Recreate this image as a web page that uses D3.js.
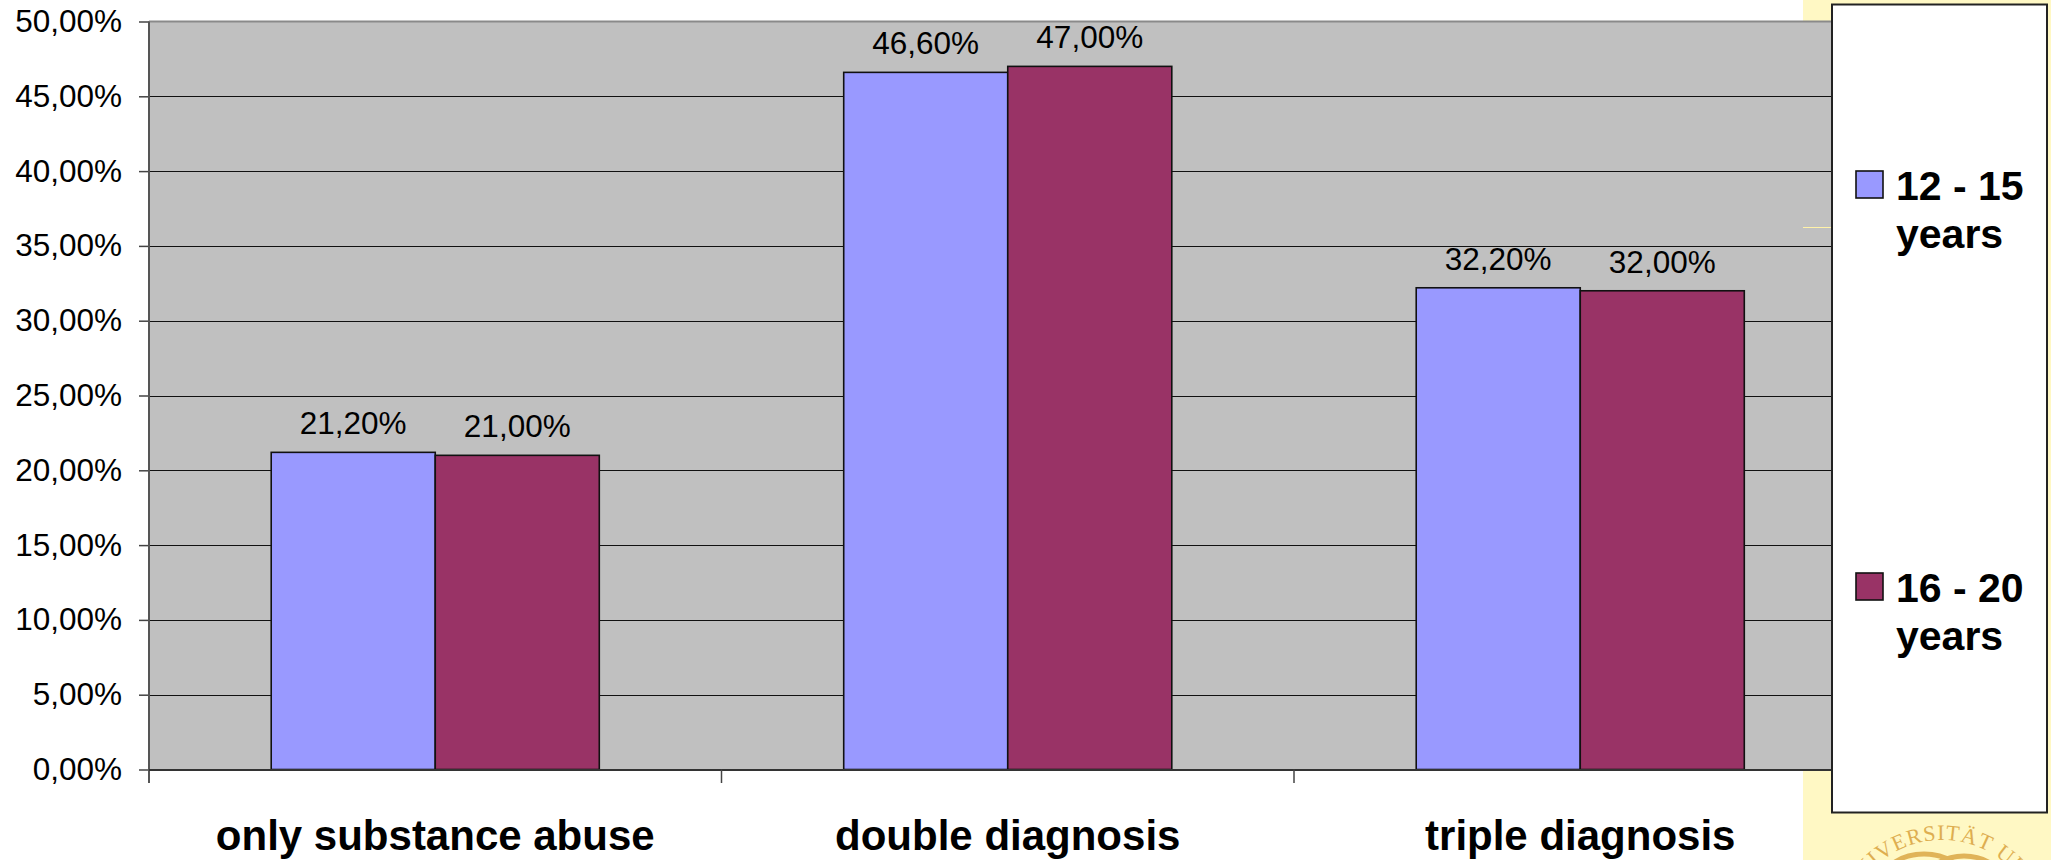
<!DOCTYPE html>
<html>
<head>
<meta charset="utf-8">
<script src="https://cdn.jsdelivr.net/npm/d3@7"></script>
<style>
  body { margin: 0; background: #fff; }
  svg { display: block; font-family: "Liberation Sans", Arial, sans-serif; }
</style>
</head>
<body>
<svg id="chart" width="2051" height="860"></svg>
<script>
// Share of patients per diagnosis group, by age band (percent)
const categories = ["only substance abuse", "double diagnosis", "triple diagnosis"];
const seriesKeys = ["12 - 15 years", "16 - 20 years"];
const legendLines = [["12 - 15", "years"], ["16 - 20", "years"]];
const ages12to15 = [21.2, 46.6, 32.2];
const ages16to20 = [21.0, 47.0, 32.0];
const yTicks = [0, 5, 10, 15, 20, 25, 30, 35, 40, 45, 50];
const seriesColors = ["#9999ff", "#993366"];

const seriesValues = [ages12to15, ages16to20];
const rows = categories.map((c, i) => ({
  category: c,
  values: seriesKeys.map((k, s) => ({ key: k, s, value: seriesValues[s][i] }))
}));

const svg = d3.select("#chart");
const W = 2051, H = 860;
const plot = { left: 149, right: 1866.5, top: 21.5, bottom: 769.5 };

const pct = v => d3.format(".2f")(v).replace(".", ",") + "%";

// slide background on the right
svg.append("rect").attr("x", 1803).attr("y", 0).attr("width", W - 1803).attr("height", H)
  .attr("fill", "#fff8c4");

// university seal, partly visible in the corner
const seal = svg.append("g").attr("opacity", 0.85);
const cx = 1942, cy = 938;
seal.append("path").attr("id", "sealArc")
  .attr("d", `M ${cx - 98},${cy} A 98 98 0 0 1 ${cx + 98},${cy}`)
  .attr("fill", "none");
seal.append("text")
  .attr("font-family", "'Liberation Serif', 'DejaVu Serif', serif")
  .attr("font-size", 22).attr("fill", "#d9a23c")
  .append("textPath").attr("href", "#sealArc")
  .attr("startOffset", "50%").attr("text-anchor", "middle")
  .attr("letter-spacing", 1)
  .text("UNIVERSITÄT ULM");
seal.append("ellipse").attr("cx", cx - 18).attr("cy", 880).attr("rx", 40).attr("ry", 26)
  .attr("fill", "none").attr("stroke", "#dba846").attr("stroke-width", 5);
seal.append("ellipse").attr("cx", cx + 22).attr("cy", 882).attr("rx", 38).attr("ry", 26)
  .attr("fill", "none").attr("stroke", "#dba846").attr("stroke-width", 5);

// scales
const x = d3.scaleBand().domain(categories).range([plot.left, plot.right]).padding(0);
const xs = d3.scaleBand().domain(seriesKeys).range([0, x.bandwidth()])
  .paddingInner(0).paddingOuter(0.745);
const y = d3.scaleLinear().domain([0, 50]).range([plot.bottom, plot.top]);

// plot area
svg.append("rect").attr("x", plot.left).attr("y", plot.top)
  .attr("width", plot.right - plot.left).attr("height", plot.bottom - plot.top)
  .attr("fill", "#c0c0c0");

// gridlines
svg.append("g").selectAll("line").data(yTicks.filter(t => t > 0 && t < 50)).join("line")
  .attr("x1", plot.left).attr("x2", plot.right)
  .attr("y1", d => Math.round(y(d)) + 0.5).attr("y2", d => Math.round(y(d)) + 0.5)
  .attr("stroke", "#111").attr("stroke-width", 1);
svg.append("line").attr("x1", plot.left).attr("x2", plot.right)
  .attr("y1", plot.top).attr("y2", plot.top)
  .attr("stroke", "#8a8a8a").attr("stroke-width", 2);

// thin highlight line at the slide edge
svg.append("line").attr("x1", 1803).attr("x2", 1832).attr("y1", 227.5).attr("y2", 227.5)
  .attr("stroke", "#fff2a8").attr("stroke-width", 1);

// bars
const groups = svg.append("g").selectAll("g").data(rows).join("g")
  .attr("transform", d => `translate(${x(d.category)},0)`);
groups.selectAll("rect").data(d => d.values).join("rect")
  .attr("x", d => xs(d.key)).attr("width", xs.bandwidth())
  .attr("y", d => y(d.value)).attr("height", d => y(0) - y(d.value))
  .attr("fill", d => seriesColors[d.s])
  .attr("stroke", "#111").attr("stroke-width", 1.6);

// value labels
groups.selectAll("text").data(d => d.values).join("text")
  .attr("x", d => xs(d.key) + xs.bandwidth() / 2)
  .attr("y", d => y(d.value) - 18)
  .attr("text-anchor", "middle").attr("font-size", 31.5).attr("fill", "#000")
  .text(d => pct(d.value));

// y axis
const yAxis = svg.append("g").attr("transform", `translate(${plot.left},0)`)
  .call(d3.axisLeft(y).tickValues(yTicks).tickSize(10).tickPadding(17).tickFormat(pct));
yAxis.select(".domain").remove();
yAxis.selectAll(".tick line").attr("stroke", "#444").attr("stroke-width", 1.5);
yAxis.selectAll(".tick text").attr("font-size", 31.5).attr("fill", "#000")
  .attr("font-family", "'Liberation Sans', Arial, sans-serif");
svg.append("line").attr("x1", plot.left).attr("x2", plot.left)
  .attr("y1", plot.top).attr("y2", 783)
  .attr("stroke", "#555").attr("stroke-width", 2);

// x axis
svg.append("line").attr("x1", plot.left).attr("x2", plot.right)
  .attr("y1", plot.bottom + 0.5).attr("y2", plot.bottom + 0.5)
  .attr("stroke", "#333").attr("stroke-width", 2);
const bounds = categories.map(c => x(c)).slice(1);
svg.append("g").selectAll("line").data(bounds).join("line")
  .attr("x1", d => d).attr("x2", d => d)
  .attr("y1", plot.bottom).attr("y2", 783)
  .attr("stroke", "#444").attr("stroke-width", 1.5);
svg.append("g").selectAll("text").data(categories).join("text")
  .attr("x", d => x(d) + x.bandwidth() / 2).attr("y", 850)
  .attr("text-anchor", "middle").attr("font-size", 42).attr("font-weight", "bold")
  .attr("fill", "#000").text(d => d);

// legend
svg.append("rect").attr("x", 1832).attr("y", 4.5).attr("width", 215).attr("height", 808)
  .attr("fill", "#fff").attr("stroke", "#222").attr("stroke-width", 2);
const legendY = d3.scalePoint().domain(seriesKeys).range([171, 573]);
const items = svg.append("g").selectAll("g").data(seriesKeys).join("g")
  .attr("transform", d => `translate(0,${legendY(d)})`);
items.append("rect").attr("x", 1856).attr("y", 0).attr("width", 27).attr("height", 27)
  .attr("fill", (d, i) => seriesColors[i]).attr("stroke", "#111").attr("stroke-width", 1.6);
items.each(function (d, i) {
  const t = d3.select(this).append("text")
    .attr("font-size", 41).attr("font-weight", "bold").attr("fill", "#000");
  legendLines[i].forEach((line, j) => {
    t.append("tspan").attr("x", 1896).attr("y", 29 + j * 48).text(line);
  });
});
</script>
</body>
</html>
